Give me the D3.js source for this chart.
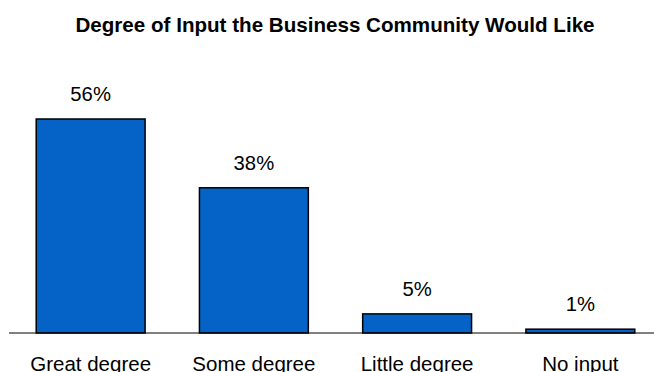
<!DOCTYPE html>
<html>
<head>
<meta charset="utf-8">
<script src="https://cdn.jsdelivr.net/npm/d3@7"></script>
<style>
  html, body { margin: 0; padding: 0; background: #fff; }
  svg { display: block; }
  text { font-family: "Liberation Sans", Arial, sans-serif; fill: #000; }
</style>
</head>
<body>
<svg id="chart" width="654" height="372"></svg>
<script>
const categories = ["Great degree", "Some degree", "Little degree", "No input"];
const values = [56, 38, 5, 1];
const valueLabels = ["56%", "38%", "5%", "1%"];
const title = "Degree of Input the Business Community Would Like";

const width = 654, height = 372;
const baseline = 333;

const svg = d3.select("#chart");

const x = d3.scaleBand()
  .domain(categories)
  .range([9, 662])
  .paddingInner(0.333)
  .paddingOuter(0.1667);

const y = d3.scaleLinear()
  .domain([0, 56])
  .range([baseline, 119]);

svg.append("text")
  .attr("x", 335)
  .attr("y", 32)
  .attr("text-anchor", "middle")
  .style("font-size", "20.6px")
  .style("font-weight", "bold")
  .text(title);

svg.selectAll("rect.bar")
  .data(values)
  .join("rect")
  .attr("class", "bar")
  .attr("x", (d, i) => x(categories[i]))
  .attr("y", d => y(d))
  .attr("width", x.bandwidth())
  .attr("height", d => baseline - y(d))
  .attr("fill", "#0563C8")
  .attr("stroke", "#000")
  .attr("stroke-width", 1.5);

svg.append("line")
  .attr("x1", 9).attr("x2", width)
  .attr("y1", baseline).attr("y2", baseline)
  .attr("stroke", "#000")
  .attr("stroke-width", 1);

svg.selectAll("text.val")
  .data(values)
  .join("text")
  .attr("class", "val")
  .attr("x", (d, i) => x(categories[i]) + x.bandwidth() / 2)
  .attr("y", d => y(d) - 18)
  .attr("text-anchor", "middle")
  .style("font-size", "20.3px")
  .text((d, i) => valueLabels[i]);

const xAxis = d3.axisBottom(x).tickSize(0).tickPadding(0);
const gx = svg.append("g")
  .attr("transform", `translate(0,${baseline})`)
  .call(xAxis);
gx.select(".domain").remove();
gx.selectAll("text")
  .attr("dy", null)
  .attr("y", 38)
  .style("font-size", "20.5px")
  .style("font-family", "'Liberation Sans', Arial, sans-serif")
  .attr("fill", "#000");
</script>
</body>
</html>
